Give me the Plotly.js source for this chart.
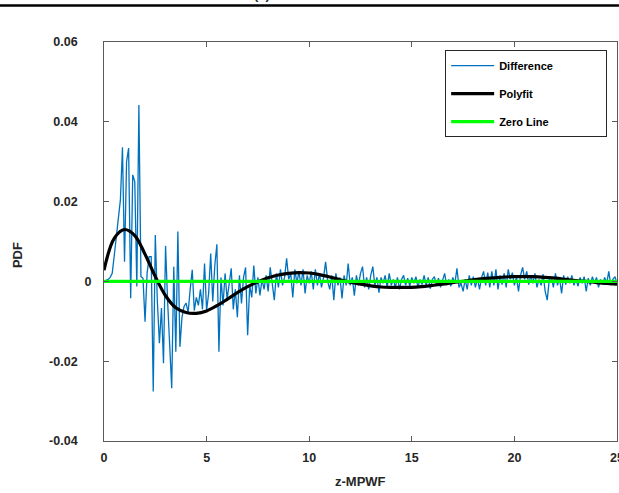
<!DOCTYPE html>
<html>
<head>
<meta charset="utf-8">
<script src="https://cdn.plot.ly/plotly-3.0.1.min.js"></script>
<style>html,body{margin:0;padding:0;background:#fff;}#chart{width:619px;height:493px;}</style>
</head>
<body>
<div id="chart"></div>
<script>
// Difference series sampled every 0.1 on z-MPWF from 0 to 25
var diffStep = 0.1;
var diffValues = [
  0, 0.0002, 0.0005, 0.0010, 0.0020, 0.0065, 0.0110, 0.0150, 0.0205, 0.0336,
  0.0049, 0.0300, 0.0334, -0.0042, 0.0267, 0.0250, -0.0013, 0.0442, 0.0012, 0.0008,
  -0.0101, 0.0020, 0.0062, 0.0062, -0.0276, 0.0116, -0.0050, -0.0155, -0.0067, -0.0205,
  0.0089, -0.0050, -0.0150, -0.0268, 0.0037, -0.0176, 0.0125, -0.0164, -0.0090, -0.0063,
  -0.0054, -0.0078, -0.0020, 0.0029, -0.0073, -0.0040, -0.0060, -0.0020, -0.0070, 0.0045,
  -0.0073, -0.0030, 0.0070, -0.0050, 0.0040, 0.0093, -0.0176, 0.0010, -0.0060, 0.0020,
  -0.0045, -0.0010, 0.0033, -0.0070, -0.0020, -0.0090, 0.0015, -0.0055, 0.0010, 0.0035,
  -0.0135, -0.0010, -0.0040, 0.0040, -0.0030, 0.0010, -0.0035, 0.0005, -0.0020, 0.0015,
  -0.0025, 0.0035, -0.0010, -0.0047, 0.0020, -0.0015, 0.0030, -0.0010, 0.0010, 0.0058,
  0.0005, 0.0020, -0.0040, 0.0030, -0.0005, 0.0025, -0.0010, 0.0030, -0.0030, 0.0015,
  -0.0005, 0.0025, -0.0020, 0.0030, -0.0010, 0.0020, -0.0015, 0.0010, 0.0049, 0.0000,
  -0.0020, 0.0015, -0.0047, 0.0020, -0.0010, 0.0010, -0.0043, 0.0015, -0.0010, 0.0045,
  -0.0010, 0.0010, -0.0036, 0.0015, -0.0010, 0.0020, 0.0037, -0.0015, 0.0010, -0.0020,
  0.0015, 0.0037, -0.0010, 0.0010, -0.0028, 0.0010, -0.0005, 0.0015, -0.0015, 0.0020,
  -0.0010, 0.0005, -0.0015, 0.0010, -0.0020, 0.0005, 0.0015, -0.0010, 0.0008, -0.0012,
  0.0010, -0.0005, 0.0012, -0.0015, 0.0005, -0.0008, 0.0015, -0.0010, 0.0010, -0.0018,
  0.0005, 0.0012, -0.0010, 0.0008, -0.0015, 0.0005, 0.0020, -0.0010, 0.0005, -0.0012,
  0.0010, -0.0005, 0.0033, -0.0015, -0.0005, -0.0025, 0.0005, -0.0020, 0.0015, -0.0010,
  0.0012, -0.0015, 0.0008, -0.0020, 0.0010, 0.0025, -0.0010, 0.0022, -0.0015, 0.0025,
  -0.0010, 0.0030, -0.0020, 0.0015, -0.0008, 0.0020, -0.0015, 0.0030, 0.0005, 0.0022,
  -0.0010, 0.0010, -0.0025, 0.0015, 0.0035, 0.0005, 0.0025, -0.0008, 0.0015, -0.0005,
  0.0020, -0.0015, 0.0005, -0.0010, 0.0018, -0.0025, -0.0047, 0.0005, 0.0010, -0.0015,
  0.0020, -0.0010, 0.0008, -0.0030, 0.0015, -0.0008, 0.0012, -0.0005, 0.0015, -0.0010,
  0.0005, -0.0012, 0.0010, -0.0005, 0.0012, -0.0025, 0.0008, -0.0010, 0.0012, -0.0005,
  0.0010, -0.0015, 0.0005, -0.0008, 0.0010, -0.0005, 0.0025, -0.0010, 0.0005, 0.0012,
  -0.0005
];
var diffX = diffValues.map(function (v, i) { return +(i * diffStep).toFixed(2); });

// Polyfit curve, read every 0.5
var polyX = [0,0.5,1,1.5,2,2.5,3,3.5,4,4.5,5,5.5,6,6.5,7,7.5,8,8.5,9,9.5,10,10.5,11,11.5,12,12.5,
             13,13.5,14,14.5,15,15.5,16,16.5,17,17.5,18,18.5,19,19.5,20,20.5,21,21.5,22,22.5,23,23.5,24,24.5,25];
var polyY = [0.0028,0.0108,0.0130,0.0115,0.0068,0.0012,-0.0036,-0.0066,-0.0078,-0.0080,-0.0074,-0.0061,
             -0.0045,-0.0028,-0.0013,-0.0001,0.0009,0.0016,0.0020,0.0022,0.0021,0.0017,0.0011,0.0004,
             -0.0002,-0.0007,-0.0011,-0.0014,-0.0015,-0.0015,-0.0015,-0.0013,-0.0010,-0.0007,-0.0003,
             0.0000,0.0004,0.0007,0.0009,0.0011,0.0012,0.0012,0.0012,0.0010,0.0008,0.0005,0.0002,
             0.0000,-0.0003,-0.0005,-0.0007];

// Zero line
var zeroX = [0, 25];
var zeroY = [0, 0];

var seriesNames = ['Difference', 'Polyfit', 'Zero Line'];
var xTicks = [0, 5, 10, 15, 20, 25];
var yTicks = [-0.04, -0.02, 0, 0.02, 0.04, 0.06];
var yTickText = ['-0.04', '-0.02', '0', '0.02', '0.04', '0.06'];

var F = 'Liberation Sans, Arial, Helvetica, sans-serif';
var axisCol = '#5a5a5a';
var NB = '\u00a0';
function pad(s, n) { var r = s; for (var i = 0; i < n; i++) r += NB; return r; }

var legendPad = [15, 21, 17];
var traces = [
  {x: diffX, y: diffValues, type: 'scatter', mode: 'lines', name: pad(seriesNames[0], legendPad[0]),
   line: {color: '#0072BD', width: 1.3}, legendgroup: 'a'},
  {x: polyX, y: polyY, type: 'scatter', mode: 'lines', name: pad(seriesNames[1], legendPad[1]),
   line: {color: '#000000', width: 3.2, shape: 'spline'}, legendgroup: 'b'},
  {x: zeroX, y: zeroY, type: 'scatter', mode: 'lines', name: pad(seriesNames[2], legendPad[2]),
   line: {color: '#00FF00', width: 3.2}, legendgroup: 'c'}
];

var tf = {family: F, size: 12.5, color: '#262626', weight: 'bold'};
var layout = {
  width: 619, height: 493,
  margin: {l: 104, r: 2, t: 42, b: 52},
  paper_bgcolor: '#ffffff', plot_bgcolor: '#ffffff',
  font: {family: F, size: 12, color: '#262626', weight: 'bold'},
  showlegend: true,
  legend: {
    x: 0.665, y: 0.9795, xanchor: 'left', yanchor: 'top',
    bordercolor: '#262626', borderwidth: 1, bgcolor: '#ffffff',
    font: {family: F, size: 11, color: '#000', weight: 'bold'},
    traceorder: 'grouped', tracegroupgap: 9, itemwidth: 43
  },
  xaxis: {
    range: [0, 25], tickvals: xTicks, ticktext: xTicks.map(String),
    showline: true, linecolor: axisCol, linewidth: 1, mirror: 'ticks',
    ticks: 'inside', ticklen: 5, tickcolor: axisCol,
    showgrid: false, zeroline: false, ticklabeloverflow: 'allow',
    ticklabelstandoff: 5, tickfont: tf
  },
  yaxis: {
    range: [-0.04, 0.06], tickvals: yTicks,
    ticktext: yTickText.map(function (t) { return t === '0' ? t : pad(t, 4); }),
    showline: true, linecolor: axisCol, linewidth: 1, mirror: 'ticks',
    ticks: 'inside', ticklen: 5, tickcolor: axisCol,
    showgrid: false, zeroline: false, ticklabeloverflow: 'allow',
    ticklabelstandoff: 9, tickfont: tf
  },
  shapes: [
    {type: 'line', xref: 'paper', yref: 'paper', x0: -0.3, x1: 1.1, y0: 1.0915, y1: 1.0915,
     line: {color: '#000', width: 2.6}}
  ],
  annotations: [
    {xref: 'paper', yref: 'paper', x: 0.308, y: 1.118, xanchor: 'center', yanchor: 'middle',
     text: '(c)', showarrow: false, font: {family: F, size: 13, color: '#262626', weight: 'bold'}},
    {xref: 'paper', yref: 'paper', x: 0.5, y: -0.1003, xanchor: 'center', yanchor: 'middle',
     text: 'z-MPWF', showarrow: false, font: {family: F, size: 13, color: '#262626', weight: 'bold'}},
    {xref: 'paper', yref: 'paper', x: -0.1696, y: 0.466, xanchor: 'center', yanchor: 'middle',
     text: 'PDF', textangle: -90, showarrow: false, font: {family: F, size: 13, color: '#262626', weight: 'bold'}}
  ]
};

Plotly.newPlot('chart', traces, layout, {displayModeBar: false, staticPlot: true});
</script>
</body>
</html>
